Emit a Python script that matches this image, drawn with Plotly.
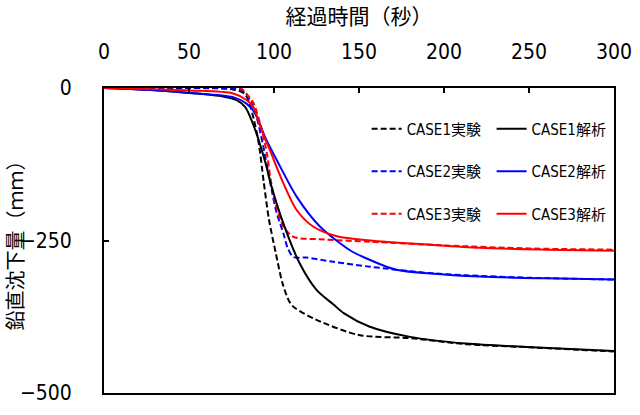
import plotly.graph_objects as go

# 経過時間（秒） vs 鉛直沈下量（mm）
t_exp1 = [0, 50, 75, 82, 85, 88, 91, 94, 97, 101, 105, 109, 112, 125, 150, 180, 213, 250, 300]
v_exp1 = [0, 0, -2, -8, -20, -50, -90, -155, -215, -270, -320, -350, -360, -380, -405, -410, -420, -425, -432]

t_ana1 = [0, 25, 50, 70, 78, 83, 89, 95, 98.6, 105.5, 115, 125, 135, 141, 156, 180, 213, 252, 300]
v_ana1 = [0, -3, -8, -14, -20, -31, -69, -123, -162, -222, -287, -331, -355, -369, -391, -408, -419, -425, -431]

t_exp2 = [0, 75, 82, 86, 90, 94, 98.6, 101.6, 105.5, 108, 111.4, 119, 135, 156.5, 190, 213, 250, 300]
v_exp2 = [0, -1, -5, -20, -50, -100, -167, -205, -238, -262, -277, -278, -285, -293, -303, -307, -311, -314]

t_ana2 = [0, 25, 50, 76, 84, 88.8, 94.7, 101.6, 113.3, 127, 144.7, 152.5, 172, 192, 221, 260, 300]
v_ana2 = [0, -3, -8, -15, -26, -41, -80, -118, -178, -227, -266, -277, -298, -304, -309, -312, -314]

t_exp3 = [0, 80, 84, 88, 92, 96, 98, 101, 105.5, 111.4, 127, 156.5, 200, 250, 300]
v_exp3 = [0, 0, -10, -25, -60, -110, -150, -190, -227, -244, -248, -252, -258, -263, -265]

t_ana3 = [0, 50, 76, 84, 88, 91, 94, 97.6, 105.5, 113.3, 123, 137, 156.5, 192, 221, 260, 300]
v_ana3 = [0, -4, -9, -20, -32, -55, -78, -102, -156, -200, -227, -243, -250, -257, -262, -265, -267]

x_ticks = [0, 50, 100, 150, 200, 250, 300]
y_ticks = [0, -250, -500]

narrow = "DejaVu Sans Condensed, Noto Sans CJK JP, sans-serif"
cjk = "Noto Sans CJK JP, sans-serif"

series = [
    ("CASE1実験", t_exp1, v_exp1, "black", "6px,3px", "legend"),
    ("CASE2実験", t_exp2, v_exp2, "#0000ff", "6px,3px", "legend"),
    ("CASE3実験", t_exp3, v_exp3, "#ff0000", "6px,3px", "legend"),
    ("CASE1解析", t_ana1, v_ana1, "black", "solid", "legend2"),
    ("CASE2解析", t_ana2, v_ana2, "#0000ff", "solid", "legend2"),
    ("CASE3解析", t_ana3, v_ana3, "#ff0000", "solid", "legend2"),
]

fig = go.Figure()
for name, t, v, color, dash, leg in series:
    fig.add_trace(go.Scatter(x=t, y=v, mode="lines", name=name, legend=leg,
                             legendgroup=name,
                             line=dict(color=color, width=2, dash=dash, shape="spline", smoothing=0.8)))

legend_style = dict(font=dict(family=narrow, size=15, color="black"),
                    bgcolor="rgba(0,0,0,0)", tracegroupgap=20,
                    xanchor="left", yanchor="top", y=0.92)

fig.update_layout(
    width=640, height=415,
    margin=dict(l=104, r=26, t=88, b=22),
    paper_bgcolor="white", plot_bgcolor="white",
    showlegend=True,
    legend=dict(x=0.515, **legend_style),
    legend2=dict(x=0.76, **legend_style),
    xaxis=dict(range=[0, 300], side="top", tickvals=x_ticks, automargin=False,
               ticks="inside", ticklen=5, tickwidth=2, tickcolor="black",
               showline=True, linecolor="black", linewidth=2, mirror=True,
               showgrid=False, zeroline=False, ticklabelstandoff=19,
               tickfont=dict(family=narrow, size=21, color="black"),
               title=dict(text="経過時間（秒）", standoff=10,
                          font=dict(family=cjk, size=21, color="black"))),
    yaxis=dict(range=[-500, 0], tickvals=y_ticks, automargin=False,
               ticks="inside", ticklen=5, tickwidth=2, tickcolor="black",
               showline=True, linecolor="black", linewidth=2, mirror=True,
               showgrid=False, zeroline=False, ticklabelstandoff=26,
               tickfont=dict(family=narrow, size=21, color="black"),
               title=dict(text="鉛直沈下量（ｍｍ）", standoff=10,
                          font=dict(family=cjk, size=20, color="black"))),
)

# the page body has a default 8px margin; drop it so the figure sits at 0,0
fig.write_html("out.html", config={"displayModeBar": False},
               post_script="document.body.style.margin='0';")
